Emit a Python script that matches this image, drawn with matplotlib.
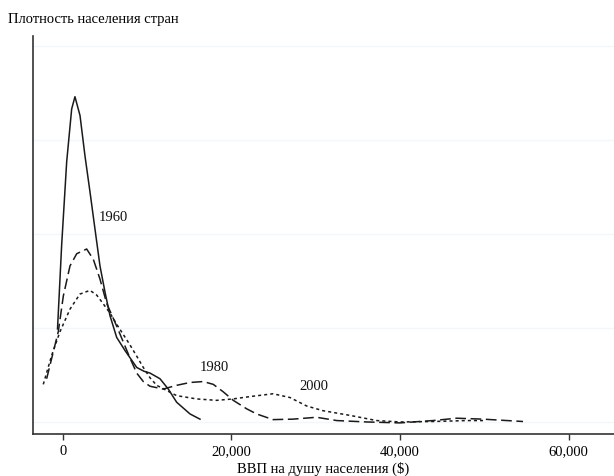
import matplotlib
matplotlib.use("Agg")
import matplotlib.pyplot as plt
from matplotlib.ticker import FuncFormatter

# GDP per capita ($) and density (arbitrary units, gridline spacing = 1)
gdp_1960 = [-650, -160, 440, 1030, 1420, 2020, 2610, 3200, 3800, 4390, 4990,
            5580, 6370, 7360, 8750, 9600, 10330, 11510, 12500, 13490, 15080, 16260]
dens_1960 = [0.99, 1.88, 2.77, 3.33, 3.46, 3.26, 2.83, 2.45, 2.05, 1.66, 1.38,
             1.13, 0.90, 0.76, 0.58, 0.54, 0.52, 0.46, 0.35, 0.21, 0.085, 0.03]

gdp_1980 = [-1940, -1140, -560, 40, 830, 1630, 2810, 3600, 4390, 5190, 6370,
            7160, 7950, 8750, 9530, 10330, 11900, 13490, 15080, 16650, 17840,
            19030, 20210, 21800, 22990, 24930, 27300, 30100, 32490, 36050,
            40000, 43920, 46730, 49850, 54600]
dens_1980 = [0.46, 0.75, 0.96, 1.34, 1.66, 1.79, 1.84, 1.73, 1.52, 1.26, 1.02,
             0.85, 0.68, 0.52, 0.43, 0.38, 0.35, 0.39, 0.42, 0.43, 0.40,
             0.32, 0.23, 0.14, 0.085, 0.025, 0.03, 0.05, 0.015, 0.0,
             -0.01, 0.015, 0.04, 0.03, 0.005]

gdp_2000 = [-2340, -1340, -360, 830, 2000, 3200, 4000, 4750, 5570, 6370, 7160,
            7950, 8750, 9530, 10330, 11120, 13490, 15870, 18240, 20180, 22200,
            24930, 26940, 28920, 30860, 34060, 37230, 40000, 43920, 47900, 49850]
dens_2000 = [0.40, 0.71, 0.96, 1.20, 1.36, 1.40, 1.35, 1.26, 1.16, 1.04, 0.93,
             0.82, 0.70, 0.58, 0.47, 0.39, 0.28, 0.245, 0.23, 0.245, 0.27,
             0.30, 0.26, 0.17, 0.12, 0.07, 0.015, 0.0, 0.005, 0.015, 0.015]

labels = ["1960", "1980", "2000"]
label_x = [5935, 17920, 29790]
label_y = [2.19, 0.585, 0.39]

xticks = [0, 20000, 40000, 60000]

plt.rcParams["font.family"] = ["Liberation Serif", "DejaVu Serif"]

fig = plt.figure(figsize=(6.14, 4.77), dpi=100)
ax = fig.add_axes([33 / 614, 42 / 477, 1 - 33 / 614, 398 / 477])

for y in range(5):
    ax.axhline(y, color="#eff8fb", lw=1.0, zorder=0)

ax.plot(gdp_1960, dens_1960, color="#1a1a1a", lw=1.1)
ax.plot(gdp_1980, dens_1980, color="#1a1a1a", lw=1.1, dashes=(7, 3))
ax.plot(gdp_2000, dens_2000, color="#1a1a1a", lw=1.1, dashes=(2, 2))

for t, x, y in zip(labels, label_x, label_y):
    ax.text(x, y, t, ha="center", va="center", fontsize=10.5, color="#111111")

ax.set_xlim(-3560, 65400)
ax.set_ylim(-0.128, 4.106)
ax.set_xticks(xticks)
ax.xaxis.set_major_formatter(FuncFormatter(lambda v, p: f"{int(v):,}"))
ax.set_yticks([])
ax.tick_params(axis="x", direction="out", length=4, width=1, labelsize=10.5,
               color="#333333", pad=3)
for s in ["top", "right"]:
    ax.spines[s].set_visible(False)
for s in ["left", "bottom"]:
    ax.spines[s].set_color("#333333")
    ax.spines[s].set_linewidth(1.2)

ax.set_xlabel("ВВП на душу населения ($)", fontsize=10.5, labelpad=3)
fig.text(8 / 614, 1 - 20 / 477, "Плотность населения стран", fontsize=10.5,
         ha="left", va="center")

fig.savefig("out.png", dpi=100)
